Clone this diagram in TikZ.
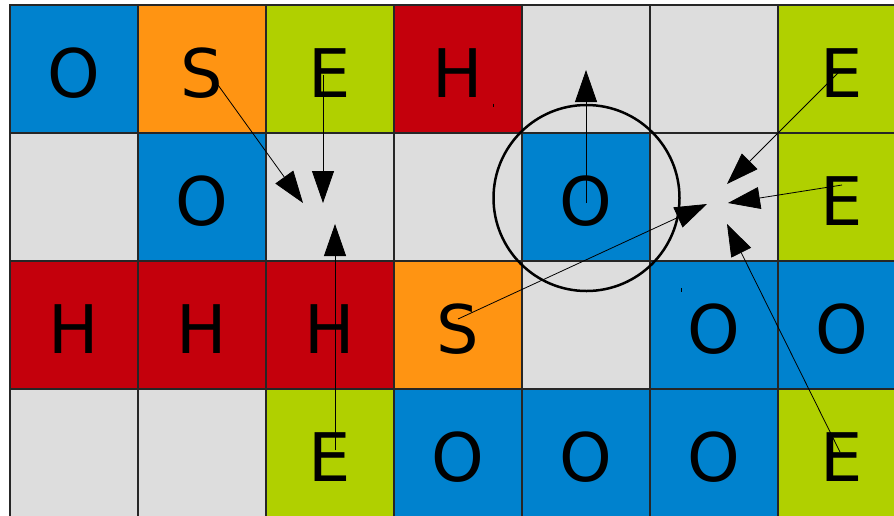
\documentclass[tikz,border=0pt]{standalone}
\usepackage{fontspec}
\setmainfont{DejaVu Sans}
\usetikzlibrary{arrows.meta}
\definecolor{cblue}{HTML}{0082CE}
\definecolor{corange}{HTML}{FF9412}
\definecolor{cgreen}{HTML}{B0D000}
\definecolor{cred}{HTML}{C4000C}
\definecolor{cgray}{HTML}{DDDDDD}
\begin{document}
\begin{tikzpicture}[x=1pt,y=-1pt,
  cell/.style={draw=black!85, line width=1.1pt, minimum size=128pt, inner sep=0pt, outer sep=0pt},
  letter/.style={font=\fontsize{67}{67}\selectfont, inner sep=0pt, text=black},
  arr/.style={-{Triangle[length=32pt,width=22pt]}, line width=0.8pt},
  ring/.style={draw, circle, line width=2.5pt, minimum size=186pt, inner sep=0pt}]
\useasboundingbox (0,0) rectangle (894,515);
\clip (0,0) rectangle (894,515);
\fill[white] (0,0) rectangle (894,515);
% cells: row/col/colour/letter
\foreach \r/\c/\col/\t in {
  1/1/cblue/O, 1/2/corange/S, 1/3/cgreen/E, 1/4/cred/H, 1/5/cgray/, 1/6/cgray/, 1/7/cgreen/E,
  2/1/cgray/, 2/2/cblue/O, 2/3/cgray/, 2/4/cgray/, 2/5/cblue/O, 2/6/cgray/, 2/7/cgreen/E,
  3/1/cred/H, 3/2/cred/H, 3/3/cred/H, 3/4/corange/S, 3/5/cgray/, 3/6/cblue/O, 3/7/cblue/O,
  4/1/cgray/, 4/2/cgray/, 4/3/cgreen/E, 4/4/cblue/O, 4/5/cblue/O, 4/6/cblue/O, 4/7/cgreen/E}
{
  \node[cell, fill=\col] (c-\r-\c) at ({74+128*(\c-1)},{69+128*(\r-1)}) {};
  \node[letter] (l-\r-\c) at ([yshift=-4pt]c-\r-\c.center) {\t};
}
% circle around the centre O
\node[ring] (ring) at (586.5,198) {};
\draw[line width=0.8pt] (493,103.5) -- (493,107);
\draw[line width=0.8pt] (681,288) -- (681,291.5);
% arrow end points
\coordinate (s1) at (218,85);  \coordinate (t1) at (303,203);
\coordinate (s2) at (323,75);  \coordinate (t2) at (323,203);
\coordinate (s3) at (335,450); \coordinate (t3) at (335,224);
\coordinate (s4) at (586,203); \coordinate (t4) at (586,70);
\coordinate (s5) at (458,319); \coordinate (t5) at (707,204);
\coordinate (s6) at (838,73);  \coordinate (t6) at (727,184);
\coordinate (s7) at (842,185); \coordinate (t7) at (728,203);
\coordinate (s8) at (840,452); \coordinate (t8) at (727,224);
\foreach \i in {1,...,8} { \draw[arr] (s\i) -- (t\i); }
\end{tikzpicture}
\end{document}
